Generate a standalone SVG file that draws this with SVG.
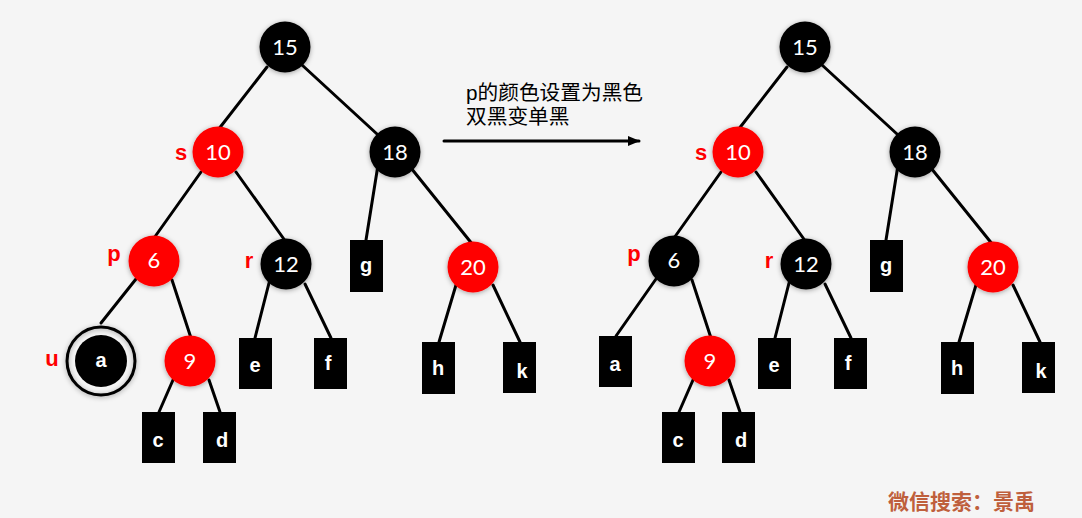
<svg xmlns="http://www.w3.org/2000/svg" width="1082" height="518" viewBox="0 0 1082 518">
<defs>
<filter id="sh" x="-40%" y="-40%" width="180%" height="180%">
<feDropShadow dx="0" dy="1" stdDeviation="2.5" flood-color="#000" flood-opacity="0.35"/>
</filter>
<marker id="arr" markerWidth="12" markerHeight="10" refX="11" refY="5" orient="auto" markerUnits="userSpaceOnUse">
<path d="M0,0 L12,5 L0,10 z" fill="#000"/>
</marker>
</defs>
<style>
.e{stroke:#000;stroke-width:3;fill:none;stroke-linecap:round}
.b{fill:#000;filter:url(#sh)}
.rd{fill:#ff0000;filter:url(#sh)}
.lf{fill:#000}
.n{font-family:Lato,"Open Sans",sans-serif;font-size:22px;fill:#fff;text-anchor:middle}
.l{font-family:"Liberation Sans",Arial,sans-serif;font-weight:bold;font-size:20px;fill:#fff;text-anchor:middle}
.t{font-family:"Liberation Sans",Arial,sans-serif;font-weight:bold;font-size:22px;fill:#ff0000;text-anchor:middle}
.c{font-family:"Liberation Sans","Noto Sans CJK SC",sans-serif;font-size:20.7px;fill:#000}
.w{font-family:"Noto Sans CJK SC",serif;font-weight:bold;font-size:21px;fill:#bf5f3c}
</style>
<rect width="1082" height="518" fill="#f5f5f5"/>
<g id="connectors">
<line class="e" x1="267" y1="67" x2="218" y2="130"/>
<line class="e" x1="302" y1="65" x2="377" y2="134"/>
<line class="e" x1="201" y1="172" x2="154" y2="238"/>
<line class="e" x1="236" y1="172" x2="286" y2="242"/>
<line class="e" x1="378" y1="165" x2="366" y2="240"/>
<line class="e" x1="411" y1="168" x2="473" y2="245"/>
<line class="e" x1="136" y1="279" x2="101" y2="323"/>
<line class="e" x1="172" y1="280" x2="191" y2="338"/>
<line class="e" x1="269" y1="283" x2="255" y2="338"/>
<line class="e" x1="305" y1="284" x2="331" y2="338"/>
<line class="e" x1="456" y1="285" x2="439" y2="342"/>
<line class="e" x1="493" y1="285" x2="520" y2="342"/>
<line class="e" x1="173" y1="380" x2="159" y2="412"/>
<line class="e" x1="209" y1="380" x2="220" y2="412"/>
<line class="e" x1="787" y1="67" x2="738" y2="130"/>
<line class="e" x1="822" y1="65" x2="897" y2="134"/>
<line class="e" x1="721" y1="172" x2="674" y2="238"/>
<line class="e" x1="756" y1="172" x2="806" y2="242"/>
<line class="e" x1="898" y1="165" x2="886" y2="240"/>
<line class="e" x1="931" y1="168" x2="993" y2="245"/>
<line class="e" x1="656" y1="279" x2="616" y2="336"/>
<line class="e" x1="692" y1="280" x2="711" y2="338"/>
<line class="e" x1="789" y1="283" x2="775" y2="338"/>
<line class="e" x1="825" y1="284" x2="851" y2="338"/>
<line class="e" x1="976" y1="285" x2="959" y2="342"/>
<line class="e" x1="1013" y1="285" x2="1040" y2="342"/>
<line class="e" x1="693" y1="380" x2="679" y2="412"/>
<line class="e" x1="729" y1="380" x2="740" y2="412"/>
<line class="e" x1="444" y1="141" x2="639" y2="141" marker-end="url(#arr)"/>
</g>
<g id="L15"><circle class="b" cx="285" cy="47" r="25.5"/><text class="n" x="285" y="55">15</text></g>
<g id="L10"><circle class="rd" cx="218" cy="152" r="25.5"/><text class="n" x="218" y="160">10</text><text class="t" x="181" y="160">s</text></g>
<g id="L18"><circle class="b" cx="395" cy="152" r="25.5"/><text class="n" x="395" y="160">18</text></g>
<g id="L6"><circle class="rd" cx="154" cy="261" r="25.5"/><text class="n" x="154" y="268">6</text><text class="t" x="114" y="261">p</text></g>
<g id="L12"><circle class="b" cx="286" cy="264" r="25.5"/><text class="n" x="286" y="272">12</text><text class="t" x="249" y="268">r</text></g>
<g id="L20"><circle class="rd" cx="473" cy="267" r="25.5"/><text class="n" x="473" y="275">20</text></g>
<g id="Lg"><rect class="lf" x="350" y="240" width="33" height="52"/><text class="l" x="366" y="272">g</text></g>
<g id="La"><circle cx="101" cy="361" r="34" fill="none" stroke="#000" stroke-width="3" filter="url(#sh)"/><circle class="lf" cx="101" cy="361" r="26"/><text class="l" x="101" y="367">a</text><text class="t" x="52" y="366">u</text></g>
<g id="L9"><circle class="rd" cx="190" cy="361" r="25.5"/><text class="n" x="190" y="369">9</text></g>
<g id="Lc"><rect class="lf" x="142" y="412" width="33" height="51"/><text class="l" x="158" y="447">c</text></g>
<g id="Ld"><rect class="lf" x="203" y="412" width="33" height="51"/><text class="l" x="222" y="447">d</text></g>
<g id="Le"><rect class="lf" x="239" y="338" width="33" height="51"/><text class="l" x="255" y="372">e</text></g>
<g id="Lf"><rect class="lf" x="314" y="338" width="33" height="51"/><text class="l" x="328" y="370">f</text></g>
<g id="Lh"><rect class="lf" x="422" y="342" width="33" height="52"/><text class="l" x="438" y="375">h</text></g>
<g id="Lk"><rect class="lf" x="503" y="342" width="33" height="51"/><text class="l" x="522" y="378">k</text></g>
<g id="R15"><circle class="b" cx="805" cy="47" r="25.5"/><text class="n" x="805" y="55">15</text></g>
<g id="R10"><circle class="rd" cx="738" cy="152" r="25.5"/><text class="n" x="738" y="160">10</text><text class="t" x="701" y="160">s</text></g>
<g id="R18"><circle class="b" cx="915" cy="152" r="25.5"/><text class="n" x="915" y="160">18</text></g>
<g id="R6"><circle class="b" cx="674" cy="261" r="25.5"/><text class="n" x="674" y="268">6</text><text class="t" x="634" y="261">p</text></g>
<g id="R12"><circle class="b" cx="806" cy="264" r="25.5"/><text class="n" x="806" y="272">12</text><text class="t" x="769" y="268">r</text></g>
<g id="R20"><circle class="rd" cx="993" cy="267" r="25.5"/><text class="n" x="993" y="275">20</text></g>
<g id="Rg"><rect class="lf" x="870" y="240" width="33" height="52"/><text class="l" x="886" y="272">g</text></g>
<g id="Ra"><rect class="lf" x="599" y="336" width="33" height="51"/><text class="l" x="615" y="371">a</text></g>
<g id="R9"><circle class="rd" cx="710" cy="361" r="25.5"/><text class="n" x="710" y="369">9</text></g>
<g id="Rc"><rect class="lf" x="662" y="412" width="33" height="51"/><text class="l" x="678" y="447">c</text></g>
<g id="Rd"><rect class="lf" x="722" y="412" width="33" height="51"/><text class="l" x="741" y="447">d</text></g>
<g id="Re"><rect class="lf" x="758" y="338" width="33" height="51"/><text class="l" x="774" y="372">e</text></g>
<g id="Rf"><rect class="lf" x="834" y="338" width="33" height="51"/><text class="l" x="848" y="370">f</text></g>
<g id="Rh"><rect class="lf" x="941" y="342" width="33" height="52"/><text class="l" x="957" y="375">h</text></g>
<g id="Rk"><rect class="lf" x="1022" y="342" width="33" height="51"/><text class="l" x="1041" y="378">k</text></g>
<g id="caption"><text class="c" x="466" y="100">p的颜色设置为黑色</text><text class="c" x="466" y="124">双黑变单黑</text></g>
<text class="w" x="888" y="509">微信搜索：景禹</text>
</svg>
